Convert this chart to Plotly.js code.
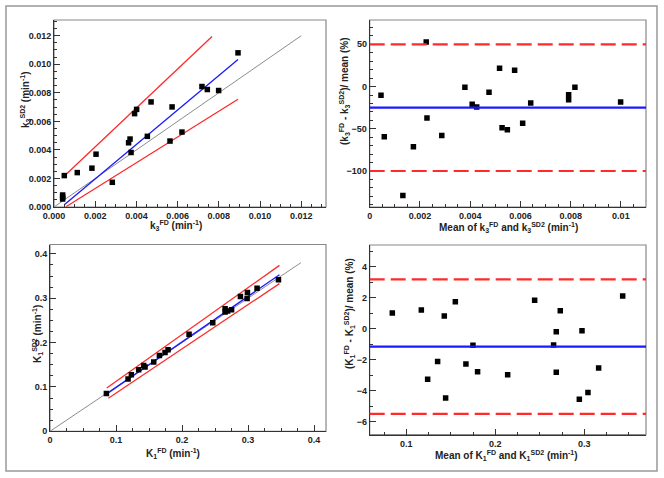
<!DOCTYPE html>
<html><head><meta charset="utf-8">
<script src="https://cdn.plot.ly/plotly-3.0.1.min.js"></script>
<style>html,body{margin:0;padding:0;background:#fff}#chart{width:664px;height:478px}</style>
</head><body><div id="chart"></div>
<script>
// ---- Panel A: k3 scatter ----
const k3FD  = [0.00042,0.00042,0.00042,0.0005,0.00113,0.00184,0.00204,0.00283,0.00362,0.00369,0.00374,0.00391,0.00401,0.00453,0.00471,0.00563,0.00573,0.00621,0.00718,0.00744,0.00799,0.00893];
const k3SD2 = [0.00084,0.0007,0.00056,0.0022,0.00241,0.00272,0.0037,0.00173,0.0045,0.00476,0.00382,0.00654,0.00684,0.00495,0.00736,0.00462,0.00701,0.00525,0.00844,0.00823,0.00816,0.0108];
const k3IdX = [0, 0.012], k3IdY = [0, 0.012];
const k3FitX = [0.0005, 0.00893], k3FitY = [0.00016, 0.01034];
const k3UpX = [0.00045, 0.00767], k3UpY = [0.0021, 0.01195];
const k3LoX = [0.0006, 0.00893], k3LoY = [0.00004, 0.00755];

// ---- Panel B: k3 Bland-Altman ----
const k3Mean = [0.00045,0.00058,0.00132,0.00174,0.00225,0.00228,0.00287,0.00379,0.00408,0.00426,0.00475,0.00517,0.00527,0.00548,0.00577,0.00609,0.00641,0.00792,0.00792,0.00817,0.00999];
const k3Diff = [-10.4,-59.4,-128.9,-71.2,52.7,-37.2,-57.8,-0.9,-21.0,-24.2,-6.8,21.6,-48.7,-51.0,19.2,-43.5,-19.5,-9.6,-15.5,-0.9,-18.3];
const k3Bias = -25, k3LoA = [50, -100];

// ---- Panel C: K1 scatter ----
const K1FD  = [0.0854,0.1182,0.1232,0.1343,0.1419,0.1439,0.1571,0.1657,0.1742,0.1788,0.2106,0.2465,0.2652,0.2652,0.269,0.275,0.2884,0.2985,0.299,0.3136,0.346];
const K1SD2 = [0.0851,0.1179,0.1276,0.1388,0.1485,0.1448,0.156,0.1709,0.1776,0.1836,0.2187,0.2448,0.276,0.269,0.271,0.274,0.3037,0.2993,0.3127,0.3224,0.3418];
const K1IdX = [0, 0.38], K1IdY = [0, 0.38];
const K1FitX = [0.086, 0.3475], K1FitY = [0.0843, 0.353];
const K1UpX = [0.086, 0.3475], K1UpY = [0.0978, 0.3739];
const K1LoX = [0.0884, 0.3475], K1LoY = [0.0746, 0.3328];

// ---- Panel D: K1 Bland-Altman ----
const K1Mean = [0.0843,0.1169,0.124,0.1352,0.1427,0.1442,0.1551,0.167,0.1749,0.1801,0.2139,0.2442,0.2655,0.2685,0.2685,0.273,0.2944,0.2974,0.3041,0.3161,0.3431];
const K1Diff = [1.02,1.22,-3.24,-2.10,0.83,-4.45,1.74,-2.27,-1.06,-2.77,-2.96,1.84,-1.04,-0.19,-2.79,1.16,-4.53,-0.12,-4.10,-2.53,2.12];
const K1Bias = -1.15, K1LoA = [3.18, -5.48];

// tick labels
const tlTicks = [0,0.002,0.004,0.006,0.008,0.010,0.012];
const trXTicks = [0,0.002,0.004,0.006,0.008,0.01];
const trXText = ['0','0.002','0.004','0.006','0.008','0.01'];
const trYTicks = [-100,-50,0,50];
const blTicks = [0,0.1,0.2,0.3,0.4];
const blText = ['0','0.1','0.2','0.3','0.4'];
const brXTicks = [0.1,0.2,0.3];
const brYTicks = [-6,-4,-2,0,2,4];

// axis titles
const titles = {
  tlx:'k<sub>3</sub><sup>FD</sup> (min<sup>-1</sup>)',
  tly:'k<sub>3</sub><sup>SD2</sup> (min<sup>-1</sup>)',
  trx:'Mean of k<sub>3</sub><sup>FD</sup> and k<sub>3</sub><sup>SD2</sup> (min<sup>-1</sup>)',
  try_:'(k<sub>3</sub><sup>FD</sup> - k<sub>3</sub><sup>SD2</sup>)/ mean (%)',
  blx:'K<sub>1</sub><sup>FD</sup> (min<sup>-1</sup>)',
  bly:'K<sub>1</sub><sup>SD2</sup> (min<sup>-1</sup>)',
  brx:'Mean of K<sub>1</sub><sup>FD</sup> and K<sub>1</sub><sup>SD2</sup> (min<sup>-1</sup>)',
  bry:'(K<sub>1</sub><sup>FD</sup> - K<sub>1</sub><sup>SD2</sup>)/ mean (%)'
};

const RED = '#ff2a2a', BLUE = '#1a1aff', GREY = '#8c8c8c';
const mk = {symbol:'square', size:5.5, color:'#000'};
function pts(x,y,xa,ya){return {x:x,y:y,xaxis:xa,yaxis:ya,mode:'markers',type:'scatter',marker:mk,hoverinfo:'skip'};}
function ln(x,y,xa,ya,c,w,d){return {x:x,y:y,xaxis:xa,yaxis:ya,mode:'lines',type:'scatter',line:{color:c,width:w,dash:d||'solid'},hoverinfo:'skip'};}

const data = [
  ln(k3IdX,k3IdY,'x','y',GREY,1),
  ln(k3UpX,k3UpY,'x','y',RED,1.3),
  ln(k3LoX,k3LoY,'x','y',RED,1.3),
  ln(k3FitX,k3FitY,'x','y',BLUE,1.3),
  pts(k3FD,k3SD2,'x','y'),
  pts(k3Mean,k3Diff,'x2','y2'),
  ln(K1IdX,K1IdY,'x3','y3',GREY,1),
  ln(K1UpX,K1UpY,'x3','y3',RED,1.3),
  ln(K1LoX,K1LoY,'x3','y3',RED,1.3),
  ln(K1FitX,K1FitY,'x3','y3',BLUE,1.3),
  pts(K1FD,K1SD2,'x3','y3'),
  pts(K1Mean,K1Diff,'x4','y4')
];

const tf = {family:'Liberation Sans, Arial, sans-serif', size:9, color:'#222', weight:'bold'};
const ttf = {family:'Liberation Sans, Arial, sans-serif', size:10, color:'#222', weight:'bold'};
function ax(o, m){
  return Object.assign({showgrid:false, zeroline:false, showline:true, linecolor:'#333', linewidth:1,
    ticks:'inside', ticklen:6, tickcolor:'#333', tickwidth:1, tickfont:tf, fixedrange:true,
    minor:{ticks:'inside', ticklen:3, tickcolor:'#333', dtick:m}}, o);
}

const W=664, H=478;
const dx = (a,b)=>[a/W,b/W], dy=(top,bot)=>[1-bot/H,1-top/H];

const layout = {
  width:W, height:H, margin:{l:0,r:0,t:0,b:0}, showlegend:false,
  paper_bgcolor:'#fff', plot_bgcolor:'#fff',
  xaxis: ax({domain:dx(54,326), anchor:'y', range:[0,0.0132], tickvals:tlTicks, tickformat:'.3f'}, 0.0005),
  yaxis: ax({domain:dy(20,207), anchor:'x', range:[0,0.0131], tickvals:tlTicks, tickformat:'.3f'}, 0.0005),
  xaxis2: ax({domain:dx(369.7,646), anchor:'y2', range:[0,0.011], tickvals:trXTicks, ticktext:trXText}, 0.0005),
  yaxis2: ax({domain:dy(20,207), anchor:'x2', range:[-142.6,78.8], tickvals:trYTicks}, 10),
  xaxis3: ax({domain:dx(50,326), anchor:'y3', range:[0,0.418], tickvals:blTicks, ticktext:blText}, 0.025),
  yaxis3: ax({domain:dy(244.5,431.3), anchor:'x3', range:[0,0.421], tickvals:blTicks, ticktext:blText}, 0.025),
  xaxis4: ax({domain:dx(369.7,646), anchor:'y4', range:[0.0589,0.3693], tickvals:brXTicks}, 0.025),
  yaxis4: ax({domain:dy(245,434.7), anchor:'x4', range:[-6.82,5.4], tickvals:brYTicks}, 1),
  shapes: [],
  annotations: []
};

function tx(text, px, py, rot){
  layout.annotations.push({text:text, xref:'paper', yref:'paper', x:px/W, y:1-py/H,
    xanchor:'center', yanchor:'middle', showarrow:false, textangle:rot||0, font:ttf});
}
tx(titles.tlx, 176, 225);
tx(titles.tly, 25, 100, -90);
tx(titles.trx, 508, 227);
tx(titles.try_, 345, 92, -90);
tx(titles.blx, 173, 453);
tx(titles.bly, 37, 334, -90);
tx(titles.brx, 507, 455);
tx(titles.bry, 349, 314, -90);

// frames (grey top/right)
['','2','3','4'].forEach(s=>{
  layout.shapes.push({type:'rect', xref:'x'+s+' domain', yref:'y'+s+' domain', x0:0,x1:1,y0:0,y1:1, line:{color:'#888',width:1.2}, layer:'below'});
});
// outer border
layout.shapes.push({type:'rect', xref:'paper', yref:'paper', x0:6/W, x1:657/W, y0:1-471/H, y1:1-6/H, line:{color:'#999',width:1.5}});
// Bland-Altman lines
function hline(v,s,c,d){return {type:'line', xref:'x'+s+' domain', yref:'y'+s, x0:0, x1:1, y0:v, y1:v, line:{color:c,width:2.2,dash:d}};}
layout.shapes.push(hline(k3Bias,'2',BLUE,'solid'));
k3LoA.forEach(v=>layout.shapes.push(hline(v,'2',RED,'15px,6px')));
layout.shapes.push(hline(K1Bias,'4',BLUE,'solid'));
K1LoA.forEach(v=>layout.shapes.push(hline(v,'4',RED,'15px,6px')));

Plotly.newPlot('chart', data, layout, {staticPlot:true, displayModeBar:false});
</script></body></html>
